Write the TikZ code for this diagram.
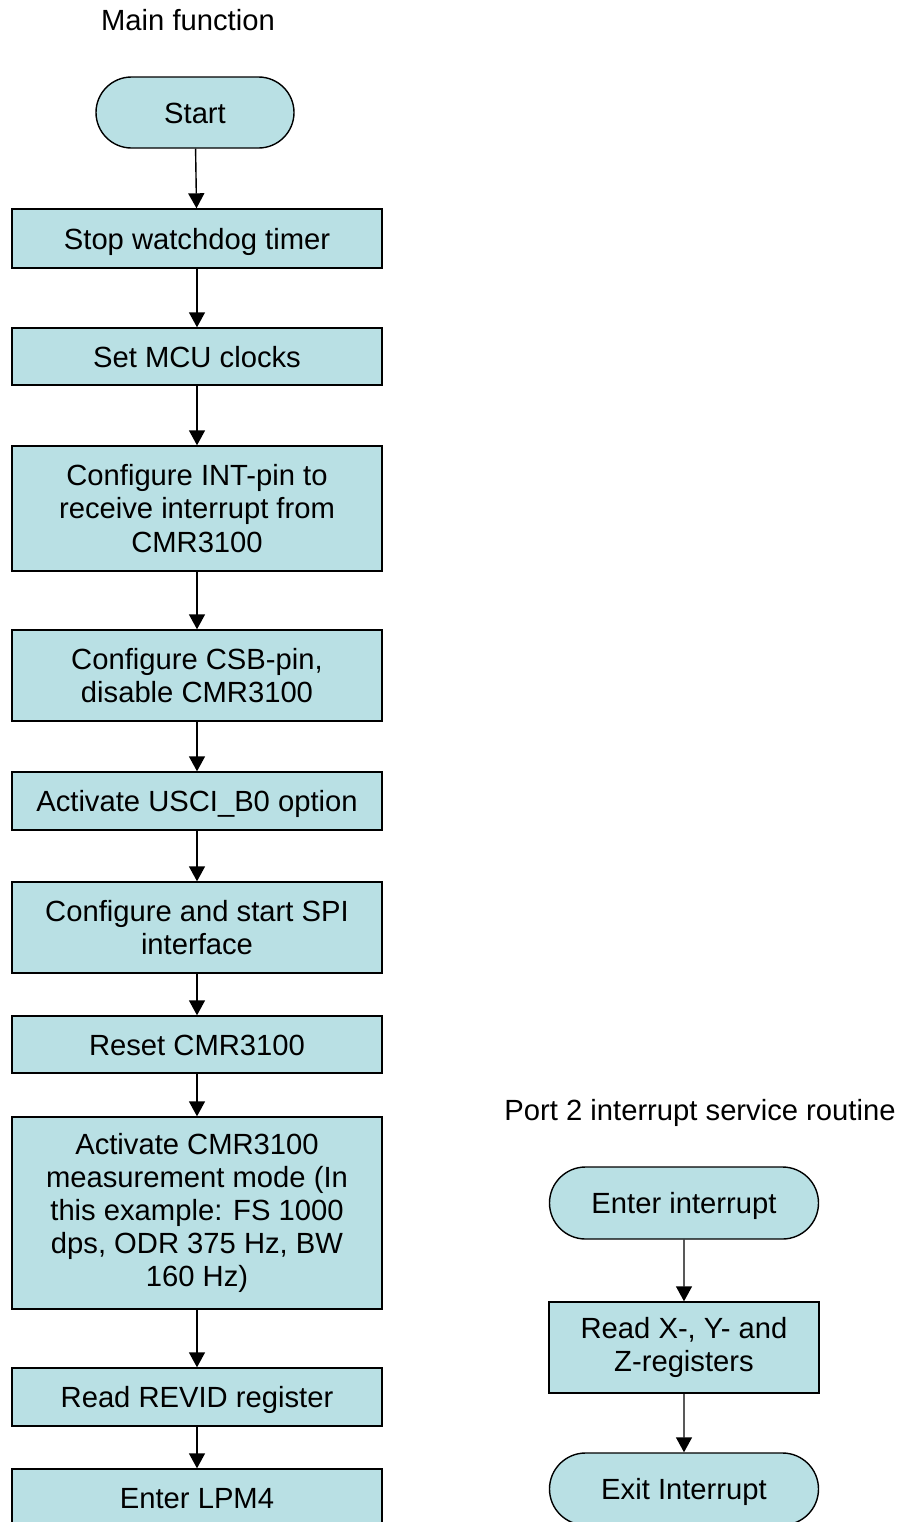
\documentclass[tikz,border=0pt]{standalone}
\usepackage{fontspec}
\setmainfont{Liberation Sans}
\usetikzlibrary{arrows.meta,shapes.misc}
\definecolor{boxfill}{RGB}{185,224,228}
\tikzset{
  procbox/.style={draw=black, fill=boxfill, line width=0.7pt, rectangle,
    minimum width=185pt, inner sep=0pt, align=center},
  termbox/.style={draw=black, fill=boxfill, line width=0.7pt, rounded rectangle,
    inner sep=0pt, align=center},
  oneline/.style={text height=10.5pt, text depth=0pt},
  flowarrow/.style={line width=0.7pt, -{Triangle[length=7.5pt,width=8pt]}},
  caption/.style={inner sep=0pt, align=center}
}
\begin{document}
\begin{tikzpicture}[x=0.5pt, y=-0.5pt,
  every node/.append style={font=\fontsize{14.6}{16.6}\selectfont}]
			%%%%% START %%%%%
			\useasboundingbox (0,0) rectangle (901,1522);
			
			% main function
			\node[caption] (maintitle) at (188,20) {Main function};
			\node[termbox, oneline, minimum width=99pt, minimum height=35.5pt] (start) at (195,112.5) {Start};
			\node[procbox, oneline, minimum height=29.5pt] (stopwdt) at (197,238.5) {Stop watchdog timer};
			\node[procbox, oneline, minimum height=28.5pt] (mcuclk) at (197,356.5) {Set MCU clocks};
			\node[procbox, minimum height=62.5pt] (intpin) at (197,508.5) {Configure INT-pin to\\receive interrupt from\\CMR3100};
			\node[procbox, minimum height=45.5pt] (csbpin) at (197,675.5) {Configure CSB-pin,\\disable CMR3100};
			\node[procbox, oneline, minimum height=29pt] (usci) at (197,801) {Activate USCI\_B0 option};
			\node[procbox, minimum height=45.5pt] (spi) at (197,927.5) {Configure and start SPI\\interface};
			\node[procbox, oneline, minimum height=28.5pt] (reset) at (197,1044.5) {Reset CMR3100};
			\node[procbox, minimum height=96pt] (measmode) at (197,1213) {Activate CMR3100\\measurement mode (In\\this example: FS 1000\\dps, ODR 375 Hz, BW\\160 Hz)};
			\node[procbox, oneline, minimum height=29pt] (revid) at (197,1397) {Read REVID register};
			\node[procbox, oneline, minimum height=29pt] (lpm) at (197,1498) {Enter LPM4};
			
			\draw[flowarrow] (start) -- (stopwdt);
			\draw[flowarrow] (stopwdt) -- (mcuclk);
			\draw[flowarrow] (mcuclk) -- (intpin);
			\draw[flowarrow] (intpin) -- (csbpin);
			\draw[flowarrow] (csbpin) -- (usci);
			\draw[flowarrow] (usci) -- (spi);
			\draw[flowarrow] (spi) -- (reset);
			\draw[flowarrow] (reset) -- (measmode);
			\draw[flowarrow] (measmode) -- (revid);
			\draw[flowarrow] (revid) -- (lpm);
			
			% port 2 isr
			\node[caption] (isrtitle) at (700,1113) {Port 2 interrupt service routine};
			\node[termbox, oneline, minimum width=134.5pt, minimum height=36pt] (enterint) at (684,1203) {Enter interrupt};
			\node[procbox, minimum width=135pt, minimum height=45.5pt] (readxyz) at (684,1347.5) {Read X-, Y- and\\Z-registers};
			\node[termbox, oneline, minimum width=134.5pt, minimum height=36pt] (exitint) at (684,1489) {Exit Interrupt};
			
			\draw[flowarrow] (enterint) -- (readxyz);
			\draw[flowarrow] (readxyz) -- (exitint);
			
			%%%%% END %%%%%
\end{tikzpicture}
\end{document}
